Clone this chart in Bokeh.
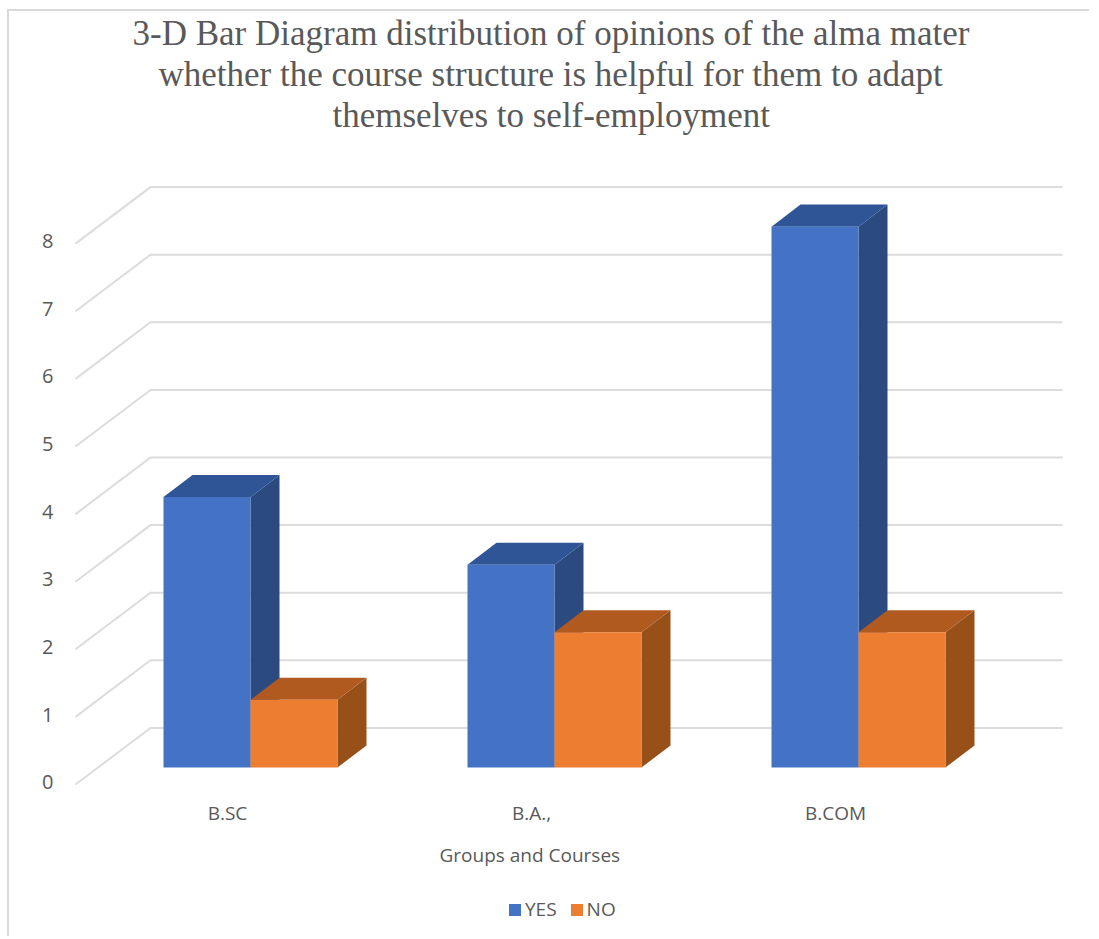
from bokeh.plotting import figure
from bokeh.layouts import column
from bokeh.models import Range1d, LinearAxis, FixedTicker, Legend, LegendItem, Title
from bokeh.embed import file_html
from bokeh.resources import INLINE

categories = ["B.SC", "B.A.,", "B.COM"]
series_names = ["YES", "NO"]
yes_values = [4, 3, 8]
no_values = [1, 2, 2]
value_ticks = [0, 1, 2, 3, 4, 5, 6, 7, 8]
title_lines = ["3-D Bar Diagram distribution of opinions of the alma mater",
               "whether the course structure is helpful for them to adapt",
               "themselves to self-employment"]
title_left = [132, 158, 332]
x_title = "Groups and Courses"

# page-pixel geometry of the reference projection
OX, OY = 9, 11         # page position of the canvas
F_L, F_R, F_T, F_B = 65, 1091, 135, 785
P_BOTTOM = 878         # page y where the chart figure ends and the legend strip begins
X0, XU = 250, 304      # px of category 0, px per category
Y0, YU = 767, 67.5     # px of value 0 on the bars' front plane, px per unit
BW = 87 / XU
DX, DY = 29 / XU, 22 / YU
GREY = "#DCDCDC"
TXT = "#595959"
FONT = "Open Sans"
YES_C = ("#4472C4", "#2F5597", "#2A4A80")
NO_C = ("#ED7D31", "#B05A20", "#985019")

xr = Range1d((F_L - X0) / XU, (F_R - X0) / XU)
yr = Range1d((Y0 - F_B) / YU, (Y0 - F_T) / YU)

p = figure(width=1091 - OX, height=P_BOTTOM - OY, output_backend="svg", toolbar_location=None,
           x_range=xr, y_range=yr, x_axis_location=None, y_axis_location=None,
           min_border_left=F_L - OX, min_border_right=0, min_border_top=0,
           min_border_bottom=0, margin=(9, 0, 0, 7),
           styles={"border-left": "2px solid #D9D9D9", "border-top": "2px solid #D9D9D9"})
p.grid.visible = False
p.outline_line_color = None
p.title = None

for line, left in reversed(list(zip(title_lines, title_left))):
    p.add_layout(Title(text=line, align="left", offset=left - F_L, text_font="Liberation Serif",
                       text_font_style="normal", text_font_size="35px", text_color=TXT, standoff=0), "above")

# category axis and value axis have their own ranges (labels sit off the bar plane)
p.extra_x_ranges["cats"] = Range1d((F_L - 227) / 304, (F_R - 227) / 304)
p.extra_y_ranges["vals"] = Range1d((782 - F_B) / 67.6, (782 - F_T) / 67.6)

xax = LinearAxis(x_range_name="cats", ticker=FixedTicker(ticks=list(range(len(categories)))),
                 major_label_overrides={i: c for i, c in enumerate(categories)},
                 axis_line_color=None, major_tick_line_color=None,
                 minor_tick_line_color=None, major_label_text_color=TXT,
                 major_label_text_font=FONT,
                 major_label_text_font_size="19px", major_label_standoff=8)
p.add_layout(xax, "below")
p.add_layout(Title(text=x_title, align="left", offset=439 - F_L, text_font=FONT, text_font_style="normal",
                   text_font_size="19px", text_color=TXT, standoff=22), "below")
yax = LinearAxis(y_range_name="vals", ticker=FixedTicker(ticks=value_ticks),
                 axis_line_color=None, major_tick_line_color=None, minor_tick_line_color=None,
                 major_label_text_color=TXT, major_label_text_font=FONT,
                 major_label_text_font_size="20px", major_label_standoff=6)
p.add_layout(yax, "left")

# wall grid: front-left diagonal then back-wall line for every tick
wx_front, wx_back, wx_end = (75 - X0) / XU, (150 - X0) / XU, (1062 - X0) / XU
back = (Y0 - 727.5) / YU
front = (Y0 - 784) / YU
for v in value_ticks:
    p.line([wx_front, wx_back, wx_end], [v + front, v + back, v + back],
           line_color=GREY, line_width=2, line_join="miter")


def bars(values, left_off, colors):
    front_c, top_c, side_c = colors
    xl = [i + left_off for i in range(len(values))]
    xr_ = [x + BW for x in xl]
    p.patches([[r, r + DX, r + DX, r] for r in xr_],
              [[0, DY, v + DY, v] for v in values], fill_color=side_c, line_color=None)
    p.patches([[l, l + DX, r + DX, r] for l, r in zip(xl, xr_)],
              [[v, v + DY, v + DY, v] for v in values], fill_color=top_c, line_color=None)
    p.quad(left=xl, right=xr_, bottom=[0] * len(values), top=values,
           fill_color=front_c, line_color=None)


bars(yes_values, -BW, YES_C)
bars(no_values, 0, NO_C)

# legend strip under the chart: the keys are tied to glyphs of the same two series
q = figure(width=1091 - OX, height=938 - P_BOTTOM, output_backend="svg", toolbar_location=None,
           x_range=Range1d(100, 101), y_range=Range1d(0, 1), x_axis_location=None, y_axis_location=None,
           min_border=0, margin=(0, 0, 0, 7), styles={"border-left": "2px solid #D9D9D9"})
q.grid.visible = False
q.outline_line_color = None
q.title = None
r_yes = q.quad(left=[0, 1, 2], right=[0.5, 1.5, 2.5], bottom=0, top=yes_values, fill_color=YES_C[0], line_color=None)
r_no = q.quad(left=[0, 1, 2], right=[0.5, 1.5, 2.5], bottom=0, top=no_values, fill_color=NO_C[0], line_color=None)
legend = Legend(items=[LegendItem(label=series_names[0], renderers=[r_yes]),
                       LegendItem(label=series_names[1], renderers=[r_no])],
                orientation="horizontal", location=(442, 14), border_line_color=None,
                background_fill_alpha=0, label_text_font=FONT, label_text_font_size="19px",
                label_text_color=TXT, glyph_width=15, glyph_height=15, spacing=12,
                label_standoff=3, padding=0, margin=0)
q.add_layout(legend)

layout = column(p, q, spacing=0)
open("out.html", "w").write(file_html(layout, INLINE))
